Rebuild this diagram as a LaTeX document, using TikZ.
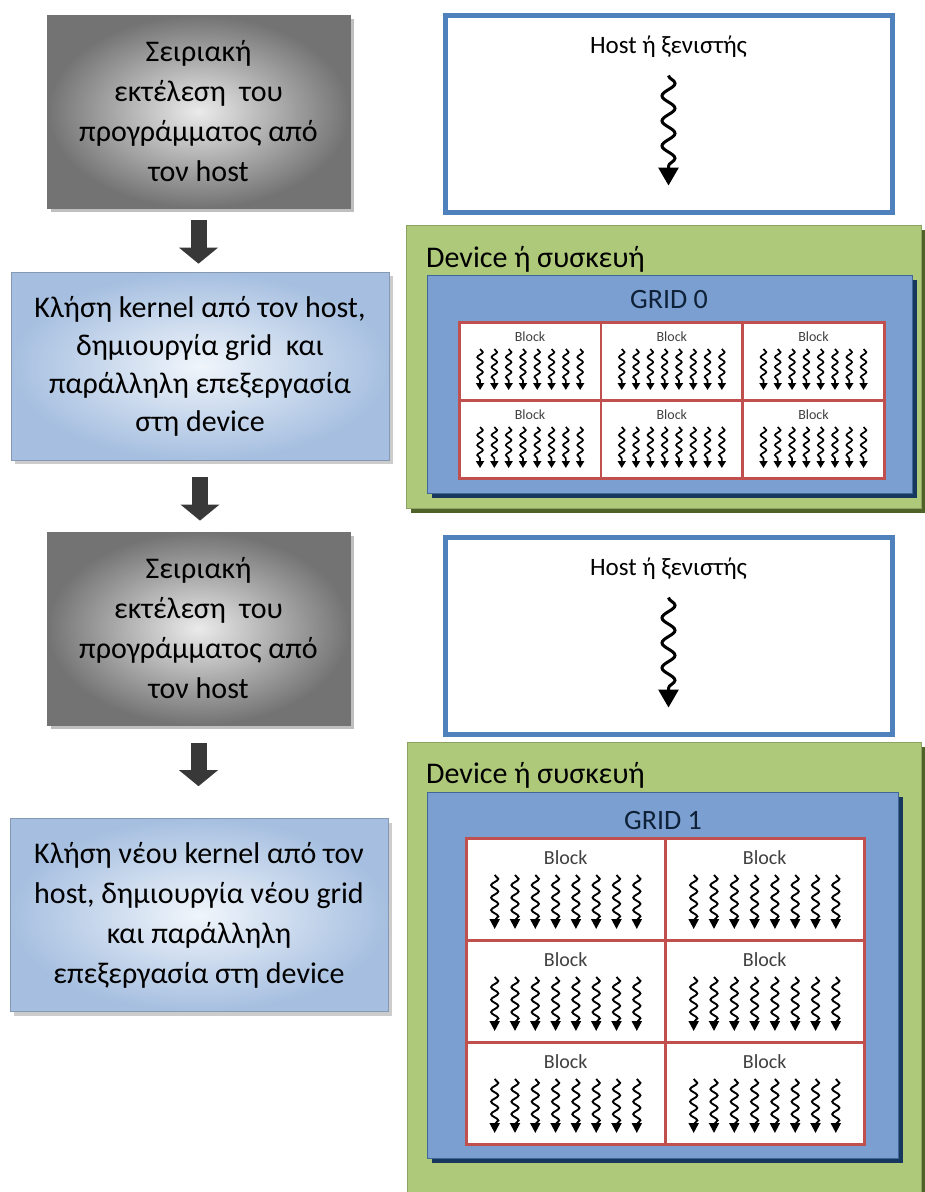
\documentclass[tikz,border=0pt]{standalone}
\usepackage{fontspec}
\setmainfont{Carlito}
\usetikzlibrary{positioning,arrows.meta,calc,decorations.pathmorphing,shadows}
\definecolor{hostblue}{HTML}{4F81BD}
\definecolor{gridred}{HTML}{C0504D}
\definecolor{devgreen}{HTML}{AFC97B}
\definecolor{devlight}{HTML}{CEDDAE}
\definecolor{devdark}{HTML}{4F6228}
\definecolor{cntblue}{HTML}{A0BDE2}
\definecolor{cntedge}{HTML}{7A9FD0}
\definecolor{cntnavy}{HTML}{17375E}
\definecolor{calllight}{HTML}{F0F5FB}
\definecolor{callblue}{HTML}{A6BFE0}
\tikzset{
  serbx/.style={rectangle,draw=black!55,line width=0.8pt,inner color=black!8,outer color=black!55,
    minimum width=303pt,minimum height=193pt,align=center,font=\fontsize{30}{40}\selectfont,
    drop shadow={shadow xshift=4pt,shadow yshift=-4pt,opacity=0.5}},
  callbx/.style={rectangle,draw=callblue!80!black,line width=0.6pt,inner color=calllight,outer color=callblue,
    minimum width=378pt,align=center,font=\fontsize{30}{38}\selectfont,
    drop shadow={shadow xshift=4pt,shadow yshift=-4pt,opacity=0.4}},
  hostbx/.style={rectangle,draw=hostblue,line width=5pt,fill=white,minimum width=447pt,minimum height=197pt},
  hosttxt/.style={font=\fontsize{25}{25}\selectfont,inner sep=0pt},
  devbx/.style={rectangle,draw=devgreen!80!black,line width=0.6pt,left color=devgreen,middle color=devlight,right color=devgreen,
    drop shadow={shadow xshift=5pt,shadow yshift=-5pt,opacity=1,fill=devdark}},
  cntbx/.style={rectangle,draw=hostblue!80!black,line width=0.6pt,left color=cntedge,middle color=cntblue,right color=cntedge,
    drop shadow={shadow xshift=5pt,shadow yshift=-5pt,opacity=1,fill=cntnavy}},
  devtxt/.style={font=\fontsize{30}{30}\selectfont,inner sep=0pt,anchor=west},
  gridtxt/.style={font=\fontsize{28}{28}\selectfont,inner sep=0pt,text=cntnavy!60!black},
  blk/.style={rectangle,draw=gridred,line width=2.5pt,fill=white,anchor=north west},
  blklbl/.style={inner sep=0pt,text=black!75},
  thr/.style={line width=1.7pt,decorate,decoration={snake,amplitude=2.8pt,segment length=10pt,post length=5pt},
    -{Triangle[length=7pt,width=8pt]}},
  thrb/.style={line width=1.9pt,decorate,decoration={snake,amplitude=3.6pt,segment length=12.5pt,post length=7pt},
    -{Triangle[length=10pt,width=10pt]}},
  hthr/.style={line width=3pt,decorate,decoration={snake,amplitude=6.5pt,segment length=25pt,post length=16pt},
    -{Triangle[length=18pt,width=20pt]}},
  dnarr/.style={line width=16pt,black!78,-{Triangle[length=16pt,width=38pt]}},
}
\begin{document}
\begin{tikzpicture}[x=1pt,y=-1pt]
  \useasboundingbox (0,0) rectangle (925,1192);
  \clip (0,0) rectangle (925,1192);

  % left column: program flow
  \node[serbx] (s1) at (198.5,111.5) {Σειριακή\\εκτέλεση\ \ του\\προγράμματος από\\τον host};
  \node[callbx,minimum height=188pt] (c1) at (200,366) {Κλήση kernel από τον host,\\δημιουργία grid\ \ και\\παράλληλη επεξεργασία\\στη device};
  \node[serbx] (s2) at (198.5,628.5) {Σειριακή\\εκτέλεση\ \ του\\προγράμματος από\\τον host};
  \node[callbx,minimum height=193pt,font=\fontsize{30}{40}\selectfont] (c2) at (199,915) {Κλήση νέου kernel από τον\\host, δημιουργία νέου grid\\και παράλληλη\\επεξεργασία στη device};

  \draw[dnarr,shorten <=12pt,shorten >=8pt] (s1.south) -- (s1.south |- c1.north);
  \draw[dnarr,shorten <=17pt,shorten >=11pt] (c1.south) -- (c1.south |- s2.north);
  \draw[dnarr,shorten <=18pt,shorten >=32pt] (s2.south) -- (s2.south |- c2.north);

  % host boxes
  \node[hostbx] (h1) at (668.5,113.5) {};
  \node[hosttxt] (h1t) at (668.5,47) {Host ή ξενιστής};
  \draw[hthr] ($(h1.north)+(0,63)$) -- ($(h1.north)+(0,173)$);
  \node[hostbx] (h2) at (668.5,635.5) {};
  \node[hosttxt] (h2t) at (668.5,569) {Host ή ξενιστής};
  \draw[hthr] ($(h2.north)+(0,63)$) -- ($(h2.north)+(0,173)$);

  % device 0
  \node[devbx,minimum width=515pt,minimum height=283pt,anchor=north west] (d0) at (406,225) {};
  \node[devtxt] (d0t) at (426,259) {Device ή συσκευή};
  \node[cntbx,minimum width=485pt,minimum height=218pt,anchor=north west] (k0) at (427,275) {};
  \node[gridtxt] (k0t) at (669,300) {GRID 0};
  \foreach \r in {0,1}{
    \foreach \c in {0,1,2}{
      \node[blk,minimum width=141.7pt,minimum height=78pt] (g0b\r\c) at ({458+\c*141.7},{321+\r*78}) {};
      \node[blklbl,font=\fontsize{14}{14}\selectfont] (g0l\r\c) at ($(g0b\r\c.north)+(0,16)$) {Block};
      \foreach \k in {0,...,7}
        \draw[thr] ($(g0b\r\c.north)+({(\k-3.5)*14.3},28)$) -- ++(0,41);
    }
  }

  % device 1
  \node[devbx,minimum width=514pt,minimum height=470pt,anchor=north west] (d1) at (407,742) {};
  \node[devtxt] (d1t) at (426,775) {Device ή συσκευή};
  \node[cntbx,minimum width=471pt,minimum height=366pt,anchor=north west] (k1) at (427,792) {};
  \node[gridtxt] (k1t) at (663,820) {GRID 1};
  \foreach \r in {0,1,2}{
    \foreach \c in {0,1}{
      \node[blk,minimum width=199pt,minimum height=102pt] (g1b\r\c) at ({465+\c*199},{837+\r*102}) {};
      \node[blklbl,font=\fontsize{20}{20}\selectfont] (g1l\r\c) at ($(g1b\r\c.north)+(0,21)$) {Block};
      \foreach \k in {0,...,7}
        \draw[thrb] ($(g1b\r\c.north)+({(\k-3.5)*20.3},38)$) -- ++(0,54);
    }
  }
\end{tikzpicture}
\end{document}
